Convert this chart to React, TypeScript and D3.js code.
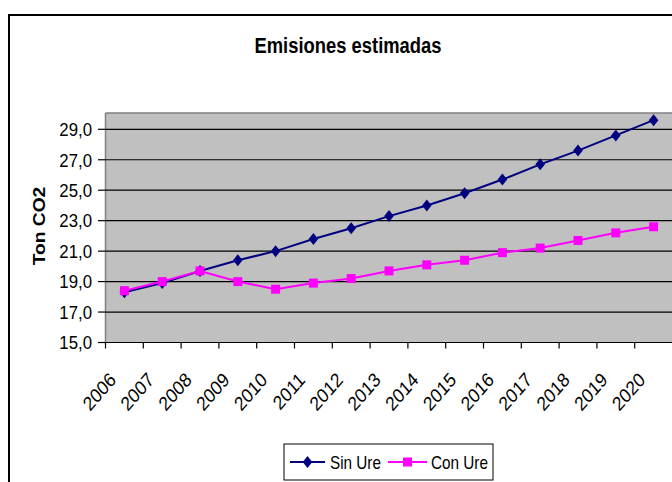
import React from "react";
import * as d3 from "d3";

const years = ["2006","2007","2008","2009","2010","2011","2012","2013","2014","2015","2016","2017","2018","2019","2020"];
const sinUre = [18.3, 18.9, 19.7, 20.4, 21.0, 21.8, 22.5, 23.3, 24.0, 24.8, 25.7, 26.7, 27.6, 28.6, 29.6];
const conUre = [18.4, 19.0, 19.7, 19.0, 18.5, 18.9, 19.2, 19.7, 20.1, 20.4, 20.9, 21.2, 21.7, 22.2, 22.6];
const yTicks = [15, 17, 19, 21, 23, 25, 27, 29];
const title = "Emisiones estimadas";
const yTitle = "Ton CO2";
const seriesNames = ["Sin Ure", "Con Ure"];

const FONT = "'Liberation Sans', Arial, sans-serif";

export default function App() {
  const left = 105.5, right = 672.5, top = 113, bottom = 342.5;
  const x = d3.scaleBand<string>().domain(years).range([left, right]);
  const y = d3.scaleLinear().domain([15, 29]).range([bottom, 129.3]);
  const cx = (yr: string) => (x(yr) as number) + x.bandwidth() / 2;
  const line = d3.line<number>().x((_, i) => cx(years[i])).y((d) => y(d));
  const fmt = (v: number) => v.toFixed(1).replace(".", ",");

  const diamond = (px: number, py: number, key?: string) => (
    <path key={key} d={`M${px},${py - 6} L${px + 4.8},${py} L${px},${py + 6} L${px - 4.8},${py} Z`} fill="#000080" />
  );
  const square = (px: number, py: number, key?: string) => (
    <rect key={key} x={px - 4.5} y={py - 4.5} width={9} height={9} fill="#ff00ff" />
  );

  return (
    <div style={{ position: "absolute", left: 0, top: 0 }}>
      <svg width={672} height={482} style={{ display: "block", background: "#fff" }} fontFamily={FONT}>
        <rect x={9} y={15} width={700} height={500} fill="#fff" stroke="#000" strokeWidth={2} />
        <text transform={`translate(348,53) scale(1,1.15)`} textAnchor="middle" fontWeight="bold" fontSize={18.4}>{title}</text>

        <rect x={left} y={top} width={right - left + 5} height={bottom - top} fill="#c0c0c0" />
        <line x1={left} x2={right + 5} y1={top} y2={top} stroke="#808080" strokeWidth={1.5} />
        <line x1={left} x2={left} y1={top} y2={bottom} stroke="#808080" strokeWidth={1.5} />
        {yTicks.map((t) => (
          <g key={t}>
            <line x1={left} x2={right + 5} y1={y(t)} y2={y(t)} stroke="#000" strokeWidth={1.2} />
            <line x1={98} x2={left} y1={y(t)} y2={y(t)} stroke="#000" strokeWidth={1.2} />
            <text transform={`translate(92,${y(t) + 6.8}) scale(1,1.12)`} textAnchor="end" fontSize={16.8}>{fmt(t)}</text>
          </g>
        ))}
        {years.map((yr) => (
          <line key={"t" + yr} x1={x(yr) as number} x2={x(yr) as number} y1={bottom} y2={bottom + 6} stroke="#000" strokeWidth={1.2} />
        ))}
        {years.map((yr) => (
          <text key={"l" + yr} transform={`translate(${cx(yr) - 7.3},381) scale(1,1.15) rotate(-45)`} textAnchor="end" fontSize={17.2}>{yr}</text>
        ))}
        <text transform={`translate(45,226) rotate(-90) scale(1.15,1)`} textAnchor="middle" fontWeight="bold" fontSize={16.7}>{yTitle}</text>

        <path d={line(sinUre) || ""} fill="none" stroke="#000080" strokeWidth={2} />
        {sinUre.map((v, i) => diamond(cx(years[i]), y(v), "d" + i))}
        <path d={line(conUre) || ""} fill="none" stroke="#ff00ff" strokeWidth={2} />
        {conUre.map((v, i) => square(cx(years[i]), y(v), "s" + i))}

        <rect x={284} y={444} width={209} height={36} fill="#fff" stroke="#000" strokeWidth={1} />
        <line x1={290} x2={325} y1={462} y2={462} stroke="#000080" strokeWidth={2} />
        {diamond(307.5, 462)}
        <text transform={`translate(330,468.5) scale(1,1.15)`} fontSize={15.3}>{seriesNames[0]}</text>
        <line x1={388} x2={427} y1={462} y2={462} stroke="#ff00ff" strokeWidth={2} />
        {square(407.5, 462)}
        <text transform={`translate(431,468.5) scale(1,1.15)`} fontSize={15.3}>{seriesNames[1]}</text>
      </svg>
    </div>
  );
}
